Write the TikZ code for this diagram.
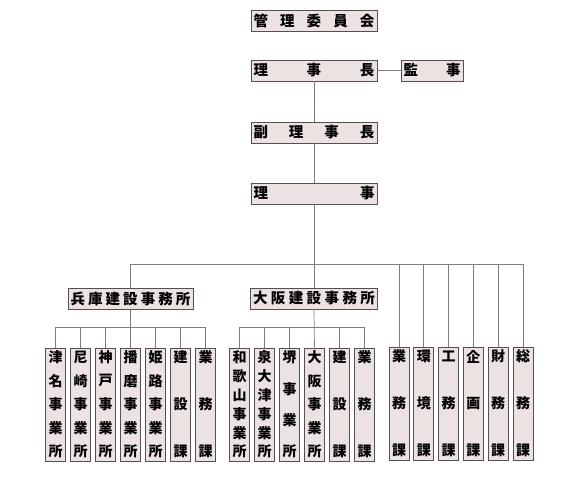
\documentclass[tikz,border=0pt]{standalone}
\usepackage{fontspec}
\newfontfamily\jpfont{Noto Sans CJK JP}
\usepackage{tikz}
\definecolor{boxfill}{RGB}{236,226,226}
\definecolor{boxline}{RGB}{85,80,80}
\definecolor{linkline}{RGB}{125,125,125}
\newcommand{\yoko}[2]{\edef\yokolist{#2}\hbox to #1{\foreach \ch [count=\k] in \yokolist {\ifnum\k>1 \hfill\fi\ch}}}
\newcommand{\tate}[1]{\edef\tatelist{#1}\vbox to 107pt{\offinterlineskip\foreach \ch [count=\k] in \tatelist {\ifnum\k>1 \vfill\fi\hbox to 18pt{\hss\vbox to 13pt{\vss\hbox{\ch}\vss}\hss}}}}
\tikzset{%
	yokobox/.style = {draw=boxline, fill=boxfill, rectangle, line width=0.8pt, inner xsep=2.5pt, inner ysep=0pt, minimum height=21pt, font=\jpfont\bfseries\fontsize{14.5}{15}\selectfont},
	tatebox/.style = {draw=boxline, fill=boxfill, rectangle, line width=0.8pt, inner sep=0pt, minimum width=20pt, minimum height=113pt, font=\jpfont\bfseries\fontsize{14}{15}\selectfont},
	link/.style    = {draw=linkline, line width=0.7pt},
}
\begin{document}
\begin{tikzpicture}[x=1pt,y=-1pt]
	\useasboundingbox (0,0) rectangle (582,480);
	\coordinate (bus) at (0,264);
	\coordinate (sub) at (0,327);
	\node[yokobox] (kanri) at (314,21) {\yoko{121pt}{管,理,委,員,会}};
	\node[yokobox] (richo) at (314,70.5) {\yoko{121pt}{理,事,長}};
	\node[yokobox] (kanji) at (432,70.5) {\yoko{57pt}{監,事}};
	\node[yokobox] (fuku) at (314,132.5) {\yoko{121pt}{副,理,事,長}};
	\node[yokobox] (riji) at (314,193.5) {\yoko{121pt}{理,事}};
	\node[yokobox] (hyogo) at (130.5,299) {\yoko{120pt}{兵,庫,建,設,事,務,所}};
	\node[yokobox] (osaka) at (314,298.5) {\yoko{122pt}{大,阪,建,設,事,務,所}};
	\foreach \x [count=\i] in {{津,名,事,業,所},{尼,崎,事,業,所},{神,戸,事,業,所},{播,磨,事,業,所},{姫,路,事,業,所},{建,設,課},{業,務,課}}
		\node[tatebox] (h\i) at (30.5+25*\i,404.5) {\tate{\x}};
	\foreach \x [count=\i] in {{和,歌,山,事,業,所},{泉,大,津,事,業,所},{堺,事,業,所},{大,阪,事,業,所},{建,設,課},{業,務,課}}
		\node[tatebox] (o\i) at (214.5+25*\i,404.5) {\tate{\x}};
	\foreach \x [count=\i] in {{業,務,課},{環,境,課},{工,務,課},{企,画,課},{財,務,課},{総,務,課}}
		\node[tatebox] (r\i) at (374.2+24.8*\i,403.5) {\tate{\x}};
	\draw[link] (richo.east) -- (kanji.west);
	\draw[link] (richo.south) -- (fuku.north);
	\draw[link] (fuku.south) -- (riji.north);
	\draw[link] (riji.south) -- (osaka.north);
	\draw[link] (hyogo.north) -- (hyogo.north |- bus) -- (r6.north |- bus) -- (r6.north);
	\foreach \i in {1,...,5}
		\draw[link] (r\i.north) -- (r\i.north |- bus);
	\draw[link] (hyogo.south) -- (h4.north);
	\draw[link] (h1.north) -- (h1.north |- sub) -- (h7.north |- sub) -- (h7.north);
	\foreach \i in {2,3,5,6}
		\draw[link] (h\i.north) -- (h\i.north |- sub);
	\draw[link] (osaka.south) -- (o4.north);
	\draw[link] (o1.north) -- (o1.north |- sub) -- (o6.north |- sub) -- (o6.north);
	\foreach \i in {2,3,5}
		\draw[link] (o\i.north) -- (o\i.north |- sub);
\end{tikzpicture}
\end{document}
